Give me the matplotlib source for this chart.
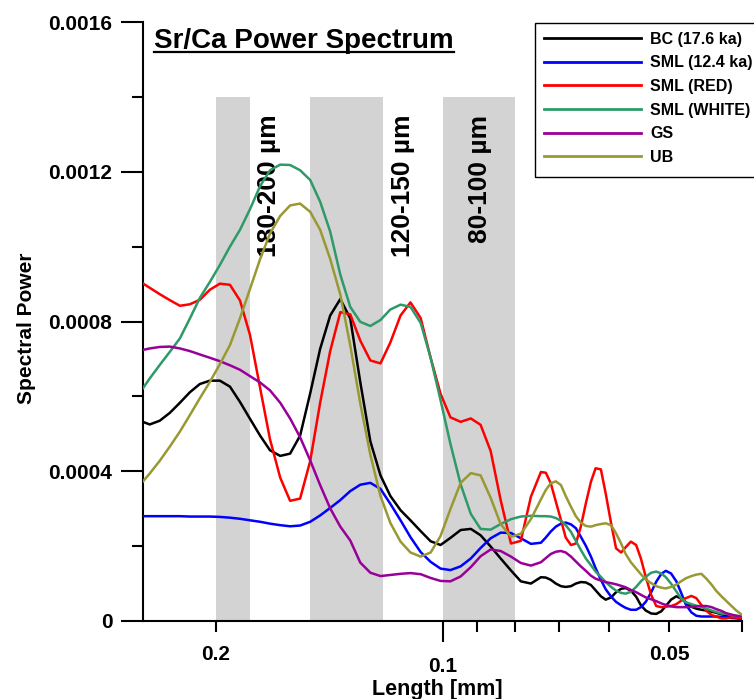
#!/usr/bin/env python3
# -*- coding: utf-8 -*-

import numpy as np
import matplotlib
matplotlib.use('Agg')
from matplotlib import pyplot as plt
from matplotlib.lines import Line2D
from matplotlib.patches import Rectangle
from matplotlib.ticker import FixedLocator, FixedFormatter

plt.rcParams['font.family'] = ['Liberation Sans', 'DejaVu Sans']
plt.rcParams['font.weight'] = 'bold'

# length [mm] grid (log axis, reversed)
length = [0.2502, 0.2449, 0.2375, 0.2303, 0.2233, 0.2166, 0.2101, 0.2037, 0.1976, 0.1916,
          0.1858, 0.1802, 0.1747, 0.1695, 0.1643, 0.1594, 0.1546, 0.1499, 0.1454, 0.1410,
          0.1367, 0.1326, 0.1286, 0.1247, 0.1209, 0.1173, 0.1137, 0.1103, 0.1069, 0.1037,
          0.1006, 0.0976, 0.0946, 0.0917, 0.0890, 0.0863, 0.0837, 0.0811, 0.0787, 0.0763,
          0.0740, 0.0729, 0.0718, 0.0707, 0.0696, 0.0686, 0.0675, 0.0665, 0.0655, 0.0645,
          0.0635, 0.0626, 0.0616, 0.0607, 0.0597, 0.0588, 0.0579, 0.0571, 0.0562, 0.0553,
          0.0545, 0.0537, 0.0528, 0.0520, 0.0512, 0.0505, 0.0497, 0.0489, 0.0482, 0.0475,
          0.0467, 0.0460, 0.0453, 0.0446, 0.0439, 0.0433, 0.0426, 0.0420, 0.0413, 0.0407,
          0.0401, 0.0399]

# spectral power, units of 1e-4
bc = [5.32, 5.25, 5.35, 5.56, 5.83, 6.11, 6.33, 6.42, 6.42, 6.26, 5.85, 5.40, 4.95, 4.56, 4.41,
      4.47, 4.95, 6.08, 7.27, 8.16, 8.60,
      8.08, 6.38, 4.80, 3.89, 3.34, 2.96, 2.69, 2.40, 2.13, 2.03, 2.22, 2.43, 2.46, 2.29, 1.99,
      1.67, 1.35, 1.06, 1.00, 1.17,
      1.16, 1.10, 1.00, 0.93, 0.91, 0.93, 1.00, 1.04, 1.03, 0.96, 0.82, 0.66, 0.57, 0.63, 0.77,
      0.86, 0.88, 0.81, 0.65, 0.42, 0.28, 0.20, 0.19, 0.26, 0.40, 0.57, 0.66, 0.60, 0.50, 0.38,
      0.33, 0.30, 0.28, 0.25, 0.22, 0.18, 0.15, 0.12, 0.10, 0.07, 0.07]
sml_124 = [2.80, 2.80, 2.80, 2.80, 2.80, 2.79, 2.79, 2.79, 2.78, 2.76, 2.73, 2.69, 2.65, 2.60, 2.56,
           2.53, 2.55, 2.65, 2.82, 3.02, 3.23,
           3.47, 3.64, 3.69, 3.53, 3.13, 2.69, 2.24, 1.84, 1.58, 1.40, 1.36, 1.46, 1.67, 1.95, 2.21,
           2.36, 2.35, 2.21, 2.06, 2.09,
           2.23, 2.39, 2.52, 2.60, 2.63, 2.58, 2.48, 2.25, 2.01, 1.72, 1.41, 1.10, 0.85, 0.65, 0.51,
           0.42, 0.35, 0.30, 0.30, 0.37, 0.51, 0.77, 1.05, 1.26, 1.34, 1.27, 1.06, 0.76, 0.44, 0.23,
           0.14, 0.12, 0.12, 0.12, 0.12, 0.11, 0.10, 0.08, 0.07, 0.05, 0.04]
sml_red = [9.02, 8.90, 8.73, 8.57, 8.42, 8.46, 8.58, 8.85, 9.01, 8.98, 8.56, 7.64, 6.22, 4.85, 3.83,
           3.21, 3.27, 4.27, 5.83, 7.21, 8.25,
           8.19, 7.49, 6.96, 6.88, 7.44, 8.16, 8.51, 8.09, 7.03, 6.07, 5.44, 5.32, 5.41, 5.24, 4.54,
           3.23, 2.07, 2.14, 3.32, 3.98,
           3.96, 3.68, 3.19, 2.70, 2.23, 2.03, 2.07, 2.52, 3.14, 3.72, 4.08, 4.05, 3.41, 2.61, 1.94,
           1.83, 1.97, 2.12, 2.03, 1.67, 1.18, 0.69, 0.40, 0.37, 0.38, 0.40, 0.45, 0.54, 0.61, 0.67,
           0.61, 0.43, 0.27, 0.16, 0.12, 0.07, 0.07, 0.10, 0.09, 0.07, 0.07]
sml_white = [6.21, 6.48, 6.84, 7.19, 7.55, 8.08, 8.63, 9.06, 9.51, 10.00, 10.45, 11.00, 11.62, 12.04,
             12.19, 12.18, 12.04, 11.78, 11.20, 10.40, 9.25,
             8.39, 7.99, 7.88, 8.04, 8.32, 8.45, 8.39, 7.96, 7.03, 5.90, 4.73, 3.65, 2.86, 2.46, 2.44,
             2.59, 2.72, 2.79, 2.81, 2.80,
             2.80, 2.79, 2.75, 2.68, 2.56, 2.38, 2.14, 1.90, 1.67, 1.49, 1.32, 1.18, 1.04, 0.91, 0.81,
             0.75, 0.73, 0.78, 0.91, 1.06, 1.18, 1.29, 1.32, 1.27, 1.17, 1.00, 0.79, 0.61, 0.50, 0.45,
             0.41, 0.38, 0.33, 0.28, 0.24, 0.20, 0.19, 0.16, 0.14, 0.12, 0.12]
gs = [7.24, 7.28, 7.32, 7.33, 7.28, 7.21, 7.12, 7.03, 6.94, 6.83, 6.71, 6.54, 6.37, 6.16, 5.83,
      5.41, 4.91, 4.29, 3.63, 3.01, 2.52,
      2.15, 1.56, 1.29, 1.20, 1.23, 1.26, 1.28, 1.25, 1.15, 1.07, 1.06, 1.19, 1.44, 1.73, 1.91,
      1.87, 1.72, 1.55, 1.48, 1.57,
      1.68, 1.79, 1.85, 1.87, 1.83, 1.72, 1.59, 1.46, 1.34, 1.21, 1.13, 1.08, 1.04, 1.01, 0.98,
      0.94, 0.90, 0.83, 0.77, 0.70, 0.63, 0.58, 0.53, 0.47, 0.43, 0.39, 0.37, 0.37, 0.37, 0.38,
      0.39, 0.40, 0.40, 0.37, 0.32, 0.27, 0.21, 0.17, 0.14, 0.12, 0.12]
ub = [3.72, 3.94, 4.28, 4.66, 5.06, 5.50, 5.95, 6.39, 6.86, 7.37, 8.09, 8.87, 9.67, 10.35, 10.82,
      11.10, 11.15, 10.93, 10.45, 9.67, 8.72,
      7.36, 5.81, 4.44, 3.34, 2.62, 2.12, 1.83, 1.72, 1.83, 2.27, 2.99, 3.69, 3.95, 3.89, 3.29,
      2.59, 2.25, 2.33, 2.72, 3.25,
      3.50, 3.68, 3.73, 3.63, 3.34, 3.05, 2.80, 2.63, 2.54, 2.52, 2.56, 2.59, 2.61, 2.56, 2.34,
      2.07, 1.79, 1.57, 1.40, 1.25, 1.11, 1.01, 0.93, 0.89, 0.87, 0.91, 0.97, 1.06, 1.14, 1.20,
      1.24, 1.26, 1.13, 0.97, 0.81, 0.66, 0.54, 0.40, 0.28, 0.18, 0.15]

labels = ['BC (17.6 ka)', 'SML (12.4 ka)', 'SML (RED)', 'SML (WHITE)', 'GS', 'UB']
colors = ['#000000', '#0000ff', '#ff0000', '#2e9a68', '#990099', '#999933']

# shaded length windows
band_lo = [0.18, 0.12, 0.08]
band_hi = [0.20, 0.15, 0.10]
band_top = 0.0014
band_text = ['180-200 µm', '120-150 µm', '80-100 µm']
band_text_x = [0.1700, 0.1128, 0.0892]

x_major = [0.1]
x_minor = [0.2, 0.09, 0.08, 0.07, 0.06, 0.05, 0.04]
x_minor_labels = ['0.2', '', '', '', '', '0.05', '']
y_major = [0, 0.0004, 0.0008, 0.0012, 0.0016]
y_major_labels = ['0', '0.0004', '0.0008', '0.0012', '0.0016']
y_minor = [0.0002, 0.0006, 0.0010, 0.0014]

W, H = 754, 699
fig = plt.figure(figsize=(W / 100, H / 100), dpi=100)
ax = fig.add_axes([143 / W, 78 / H, 599 / W, 599 / H])

for lo, hi in zip(band_lo, band_hi):
    ax.axvspan(lo, hi, ymin=0, ymax=band_top / 0.0016, color='#d3d3d3', lw=0, zorder=0)
for x, t in zip(band_text_x, band_text):
    ax.text(x, 0.001352, t, rotation=90, ha='center', va='top', fontsize=19, fontweight='bold')

for vals, lab, c in zip([bc, sml_124, sml_red, sml_white, gs, ub], labels, colors):
    ax.plot(length, np.array(vals) * 1e-4, color=c, lw=1.8, label=lab, zorder=3,
            solid_joinstyle='round')

ax.set_xscale('log')
ax.set_xlim(0.25, 0.04)
ax.set_ylim(0, 0.0016)

ax.xaxis.set_major_locator(FixedLocator(x_major))
ax.xaxis.set_major_formatter(FixedFormatter(['0.1']))
ax.xaxis.set_minor_locator(FixedLocator(x_minor))
ax.xaxis.set_minor_formatter(FixedFormatter(x_minor_labels))
ax.yaxis.set_major_locator(FixedLocator(y_major))
ax.yaxis.set_major_formatter(FixedFormatter(y_major_labels))
ax.yaxis.set_minor_locator(FixedLocator(y_minor))

ax.tick_params(axis='x', which='major', length=15, width=1.5, pad=11, labelsize=15)
ax.tick_params(axis='x', which='minor', length=8, width=1.5, pad=9.5, labelsize=15)
ax.tick_params(axis='y', which='major', length=15.5, width=1.5, pad=6.5, labelsize=15)
ax.tick_params(axis='y', which='minor', length=8, width=1.5)
for s in ['top', 'right']:
    ax.spines[s].set_visible(False)
for s in ['left', 'bottom']:
    ax.spines[s].set_linewidth(1.5)

fig.text(27 / W, 1 - 328 / H, 'Spectral Power', rotation=90, ha='center', va='center',
         fontsize=15, fontweight='bold')
fig.text(437 / W, 1 - 695 / H, 'Length [mm]', ha='center', va='baseline',
         fontsize=15.5, fontweight='bold')

# underlined title
title = fig.text(154 / W, 1 - 48 / H, 'Sr/Ca Power Spectrum', ha='left', va='baseline',
                 fontsize=20, fontweight='bold')
fig.canvas.draw()
bb = title.get_window_extent(fig.canvas.get_renderer()).transformed(fig.transFigure.inverted())
fig.add_artist(Line2D([bb.x0, bb.x1], [1 - 52 / H] * 2, color='black', lw=1.6))

# legend box runs off the right edge of the figure, so draw its frame by hand
leg = ax.legend(loc='upper left', bbox_to_anchor=(535 / W, 1 - 23 / H), bbox_transform=fig.transFigure,
                frameon=False, borderpad=0.55, handlelength=6.1,
                handletextpad=0.56, labelspacing=0.54, borderaxespad=0,
                prop={'size': 11.5, 'weight': 'bold'})
for h in leg.get_lines():
    h.set_linewidth(2.0)
fig.add_artist(Rectangle((535 / W, 1 - 177 / H), 240 / W, 154 / H, transform=fig.transFigure,
                         fill=False, edgecolor='black', lw=1.0, zorder=5))

fig.savefig('out.png', dpi=100)
